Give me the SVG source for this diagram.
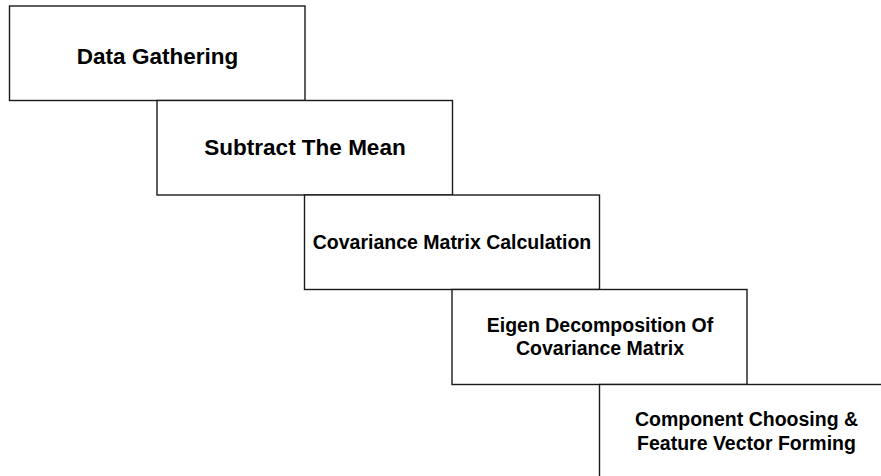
<svg xmlns="http://www.w3.org/2000/svg" width="881" height="476" viewBox="0 0 881 476">
<style>
.box{fill:#fff;stroke:#1a1a1a;stroke-width:1.4}
.t{font-family:"Liberation Sans",Arial,sans-serif;font-weight:bold;fill:#000;text-anchor:middle}
.big{font-size:22.5px}
.sm{font-size:19.5px}
</style>
<rect width="881" height="476" fill="#fff"/>
<g id="connectors"></g>
<g id="n1"><rect class="box" x="9.5" y="6" width="295.5" height="94.5"/><text class="t big" x="157.5" y="64.3">Data Gathering</text></g>
<g id="n2"><rect class="box" x="157" y="100.5" width="295.5" height="94.5"/><text class="t big" x="305" y="155">Subtract The Mean</text></g>
<g id="n3"><rect class="box" x="304.5" y="195" width="295" height="94.5"/><text class="t sm" x="452" y="248.5">Covariance Matrix Calculation</text></g>
<g id="n4"><rect class="box" x="452" y="289.5" width="295" height="95"/><text class="t sm" x="600" y="331.7">Eigen Decomposition Of</text><text class="t sm" x="600" y="355.2">Covariance Matrix</text></g>
<g id="n5"><rect class="box" x="599.5" y="384.5" width="295" height="95"/><text class="t sm" x="746.5" y="425.5">Component Choosing &amp;</text><text class="t sm" x="746.5" y="450">Feature Vector Forming</text></g>
</svg>
